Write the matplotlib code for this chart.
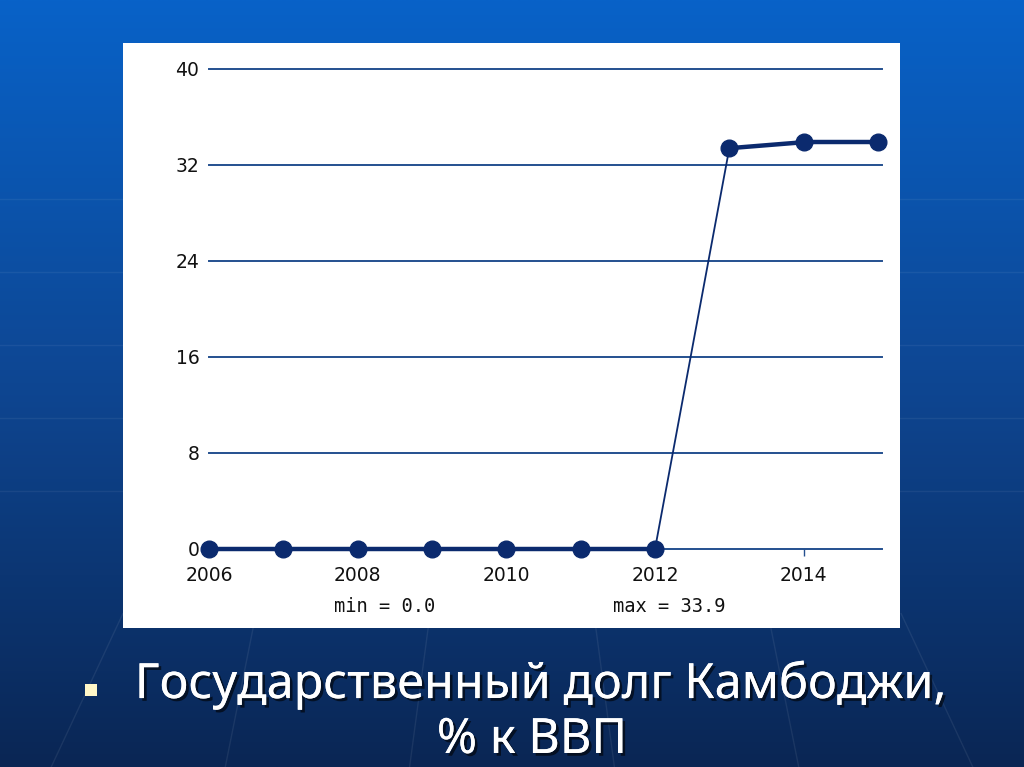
import numpy as np
import matplotlib
matplotlib.use("Agg")
import matplotlib.pyplot as plt
from matplotlib.patches import Rectangle
import matplotlib.patheffects as pe

# ---- data ----
years = [2006, 2007, 2008, 2009, 2010, 2011, 2012, 2013, 2014, 2015]
debt = [0.0, 0.0, 0.0, 0.0, 0.0, 0.0, 0.0, 33.4, 33.9, 33.9]
y_ticks = [0, 8, 16, 24, 32, 40]
x_ticks = [2006, 2008, 2010, 2012, 2014]
title_line1 = "Государственный долг Камбоджи,"
title_line2 = "% к ВВП"

W, H = 1024, 767
fig = plt.figure(figsize=(W / 100, H / 100), dpi=100)

# ---- slide background gradient ----
bg = fig.add_axes([0, 0, 1, 1])
bg.set_axis_off()
top = np.array([8, 98, 200]) / 255
mid = np.array([14, 70, 146]) / 255
bot = np.array([10, 38, 84]) / 255
t = np.linspace(0, 1, 400)[:, None]
grad = np.where(t < 0.5, top + (mid - top) * (t / 0.5), mid + (bot - mid) * ((t - 0.5) / 0.5))
bg.imshow(grad[:, None, :].repeat(2, axis=1), aspect="auto", extent=[0, 1, 0, 1], origin="upper")
# faint decorative lines
for yy in [0.74, 0.645, 0.55, 0.455, 0.36]:
    bg.plot([0, 1], [yy, yy], color="white", alpha=0.06, lw=1)
for xb, xt in [(0.05, 0.12), (0.22, 0.25), (0.4, 0.42), (0.6, 0.58), (0.78, 0.75), (0.95, 0.88)]:
    bg.plot([xb, xt], [0.0, 0.2], color="white", alpha=0.07, lw=1)
bg.set_xlim(0, 1)
bg.set_ylim(0, 1)

# ---- white chart panel ----
fig.patches.append(Rectangle((123 / W, 1 - 628 / H), 777 / W, 585 / H,
                             transform=fig.transFigure, facecolor="white",
                             edgecolor="none", zorder=1))

# ---- chart axes ----
ax = fig.add_axes([209 / W, 1 - 549 / H, 673 / W, 480 / H])
ax.set_facecolor("none")
ax.set_zorder(2)
ax.set_xlim(2006, 2006 + 9 * 673 / 669)
ax.set_ylim(0, 40)
for s in ax.spines.values():
    s.set_visible(False)

grid_color = "#24508f"
for yv in y_ticks:
    ax.axhline(yv, color=grid_color, lw=1.4, zorder=1, clip_on=False)

line_color = "#0b2a6e"
for i in range(len(years) - 1):
    x0, x1 = years[i], years[i + 1]
    y0, y1 = debt[i], debt[i + 1]
    lw = 3.2 if abs(y1 - y0) < 2 else 1.3
    ax.plot([x0, x1], [y0, y1], color=line_color, lw=lw, zorder=3,
            clip_on=False, solid_capstyle="round")
ax.plot(years, debt, linestyle="none", marker="o", ms=12, color=line_color,
        zorder=4, clip_on=False)

ax.set_yticks(y_ticks)
ax.set_yticklabels([str(v) for v in y_ticks])
ax.set_xticks(x_ticks)
ax.set_xticklabels([str(v) for v in x_ticks])
ax.tick_params(axis="y", length=0, pad=7, labelsize=13.5, labelcolor="#111111")
ax.tick_params(axis="x", length=5, width=1, color=grid_color, direction="out",
               pad=7, labelsize=13.5, labelcolor="#111111")

mono = "DejaVu Sans Mono"
fig.text(385 / W, 1 - 607 / H, f"min = {min(debt):.1f}", family=mono, fontsize=13.5,
         ha="center", va="center", color="#111111", zorder=5)
fig.text(669 / W, 1 - 607 / H, f"max = {max(debt):.1f}", family=mono, fontsize=13.5,
         ha="center", va="center", color="#111111", zorder=5)

# ---- slide caption ----
shadow = [pe.withSimplePatchShadow(offset=(2, -2), shadow_rgbFace="black", alpha=0.6), pe.Normal()]
fig.text(541 / W, 1 - 685 / H, title_line1, family="Noto Sans", fontsize=35,
         color="white", ha="center", va="center", path_effects=shadow)
fig.text(532 / W, 1 - 740 / H, title_line2, family="Noto Sans", fontsize=35,
         color="white", ha="center", va="center", path_effects=shadow)
fig.patches.append(Rectangle((85 / W, 1 - 696 / H), 12 / W, 12 / H,
                             transform=fig.transFigure, facecolor="#fff7c8",
                             edgecolor="none", zorder=5))

fig.savefig("out.png", dpi=100)
